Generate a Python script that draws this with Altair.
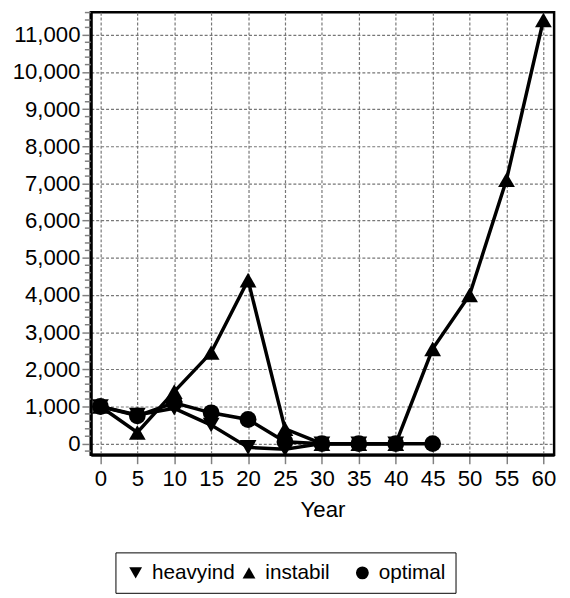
import altair as alt
import pandas as pd

years = [0, 5, 10, 15, 20, 25, 30, 35, 40, 45, 50, 55, 60]
heavyind = [1000, 770, 950, 500, -100, -150, 0, 0, 0]
instabil = [1000, 300, 1400, 2450, 4400, 400, 0, 0, 0, 2550, 4000, 7100, 11400]
optimal = [1000, 750, 1100, 830, 650, 50, 0, 0, 0, 0]

series_names = ["heavyind", "instabil", "optimal"]
series_shapes = ["triangle-down", "triangle-up", "circle"]
y_ticks = [0, 1000, 2000, 3000, 4000, 5000, 6000, 7000, 8000, 9000, 10000, 11000]
x_ticks = [0, 5, 10, 15, 20, 25, 30, 35, 40, 45, 50, 55, 60]
minor_ticks = [v for v in range(-200, 11601, 200) if v % 1000 != 0]

rows = []
for name, vals in zip(series_names, [heavyind, instabil, optimal]):
    for yr, v in zip(years, vals):
        rows.append({"Year": yr, "value": v, "series": name})
df = pd.DataFrame(rows)
minor_df = pd.DataFrame({"value": minor_ticks})

FONT = "Liberation Sans"

x_scale = alt.Scale(domain=[-1.3, 61.45], nice=False, zero=False)
y_scale = alt.Scale(domain=[-300, 11610], nice=False, zero=False)

x_axis = alt.Axis(values=x_ticks, title="Year", format="d")
y_axis = alt.Axis(values=y_ticks, format=",.0f", title=None)

lines = alt.Chart(df).mark_line(color="black", strokeWidth=3.5).encode(
    x=alt.X("Year:Q", scale=x_scale, axis=x_axis),
    y=alt.Y("value:Q", scale=y_scale, axis=y_axis),
    detail="series:N", order="Year:Q",
)

points = alt.Chart(df).mark_point(filled=True, color="black", opacity=1, size=290).encode(
    x=alt.X("Year:Q", scale=x_scale, axis=x_axis),
    y=alt.Y("value:Q", scale=y_scale, axis=y_axis),
    shape=alt.Shape(
        "series:N",
        scale=alt.Scale(domain=series_names, range=series_shapes),
        legend=alt.Legend(
            title=None, orient="none", legendX=25, legendY=548,
            direction="horizontal", columns=3, gridAlign="all",
            columnPadding=3, padding=10, strokeColor="black",
            fillColor="white", labelFontSize=21, labelFont=FONT,
            labelColor="black", symbolSize=170, symbolFillColor="black",
            symbolStrokeColor="black", labelOffset=6,
        ),
    ),
)

minor = alt.Chart(minor_df).mark_rule(color="#808080", strokeWidth=1.5).encode(
    y=alt.Y("value:Q", scale=y_scale, axis=y_axis),
    x=alt.value(-6),
    x2=alt.value(0),
)

chart = alt.layer(lines, points, minor).properties(
    width=470, height=449,
    autosize=alt.AutoSizeParams(type="none"),
    padding={"left": 84, "top": 0, "right": 8, "bottom": 140},
).configure(
    font=FONT,
).configure_view(
    stroke="black", strokeWidth=2.5,
).configure_axis(
    grid=True, gridDash=[3, 2], gridColor="#777777", gridWidth=1.2,
    gridOpacity=1, domainColor="black", domainWidth=3, tickColor="#808080",
    tickSize=9, tickWidth=1.5, labelFontSize=22.5, labelFont=FONT,
    labelColor="black", labelFlush=False, labelOverlap=False,
    titleFont=FONT, titleFontSize=22.5, titleFontWeight="normal",
    titleColor="black",
).configure_axisX(
    labelPadding=4, titlePadding=9,
).configure_axisY(
    labelPadding=2,
)

chart.save("out.html", embed_options={"renderer": "svg", "actions": False})
